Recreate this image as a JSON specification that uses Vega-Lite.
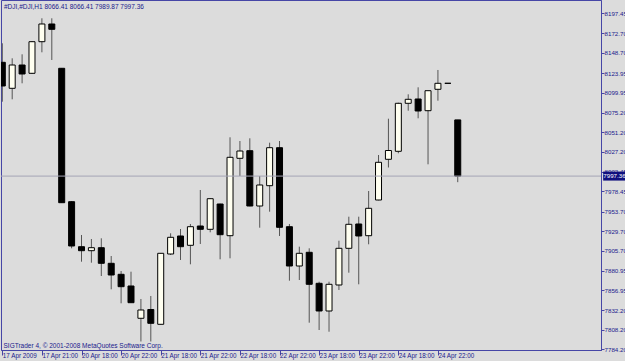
{
  "$schema": "https://vega.github.io/schema/vega-lite/v6.json",
  "width": 600,
  "height": 350,
  "autosize": {"type": "none"},
  "padding": {"left": 1, "top": 0, "right": 24, "bottom": 11},
  "background": "#dcdcdc",
  "config": {
    "view": {"stroke": "#4646a6", "strokeWidth": 1, "fill": "#dcdcdc"},
    "font": "Liberation Sans, sans-serif",
    "scale": {"continuousPadding": 0}
  },
  "title": {
    "text": "#DJI,#DJI,H1  8066.41 8066.41 7989.87 7997.36",
    "anchor": "start",
    "frame": "group",
    "orient": "top",
    "offset": -10,
    "dx": 3,
    "fontSize": 6.5,
    "fontWeight": "normal",
    "color": "#1a1a8c",
    "font": "Liberation Sans, sans-serif"
  },
  "resolve": {"axis": {"x": "independent", "y": "independent"}},
  "datasets": {
    "candles": [
      {"t": "2009-04-17 17:00", "i": 0, "open": 8137.22, "high": 8160.58, "low": 8088.79, "close": 8108.09},
      {"t": "2009-04-17 18:00", "i": 1, "open": 8105.26, "high": 8142.14, "low": 8091.74, "close": 8133.90},
      {"t": "2009-04-17 19:00", "i": 2, "open": 8133.90, "high": 8147.05, "low": 8111.41, "close": 8122.84},
      {"t": "2009-04-17 20:00", "i": 3, "open": 8123.70, "high": 8163.40, "low": 8122.84, "close": 8162.54},
      {"t": "2009-04-17 21:00", "i": 4, "open": 8162.54, "high": 8191.31, "low": 8149.51, "close": 8184.30},
      {"t": "2009-04-17 22:00", "i": 5, "open": 8184.30, "high": 8191.31, "low": 8140.05, "close": 8177.78},
      {"t": "2009-04-20 16:00", "i": 6, "open": 8129.85, "high": 8130.22, "low": 7964.27, "close": 7964.64},
      {"t": "2009-04-20 17:00", "i": 7, "open": 7965.87, "high": 7966.73, "low": 7908.59, "close": 7911.42},
      {"t": "2009-04-20 18:00", "i": 8, "open": 7910.56, "high": 7924.94, "low": 7892.12, "close": 7905.64},
      {"t": "2009-04-20 19:00", "i": 9, "open": 7905.64, "high": 7920.02, "low": 7890.89, "close": 7909.33},
      {"t": "2009-04-20 20:00", "i": 10, "open": 7909.33, "high": 7920.88, "low": 7874.54, "close": 7890.15},
      {"t": "2009-04-20 21:00", "i": 11, "open": 7890.15, "high": 7899.12, "low": 7858.19, "close": 7875.77},
      {"t": "2009-04-20 22:00", "i": 12, "open": 7876.63, "high": 7880.69, "low": 7840.98, "close": 7861.39},
      {"t": "2009-04-20 23:00", "i": 13, "open": 7862.25, "high": 7879.83, "low": 7841.72, "close": 7841.72},
      {"t": "2009-04-21 16:00", "i": 14, "open": 7822.55, "high": 7846.27, "low": 7794.03, "close": 7832.75},
      {"t": "2009-04-21 17:00", "i": 15, "open": 7833.36, "high": 7849.96, "low": 7794.03, "close": 7816.40},
      {"t": "2009-04-21 18:00", "i": 16, "open": 7815.17, "high": 7902.81, "low": 7814.92, "close": 7902.44},
      {"t": "2009-04-21 19:00", "i": 17, "open": 7901.58, "high": 7927.03, "low": 7900.35, "close": 7922.11},
      {"t": "2009-04-21 20:00", "i": 18, "open": 7923.71, "high": 7932.31, "low": 7894.21, "close": 7910.56},
      {"t": "2009-04-21 21:00", "i": 19, "open": 7912.28, "high": 7938.46, "low": 7888.92, "close": 7935.14},
      {"t": "2009-04-21 22:00", "i": 20, "open": 7936.00, "high": 7980.25, "low": 7913.88, "close": 7931.94},
      {"t": "2009-04-21 23:00", "i": 21, "open": 7931.94, "high": 7970.05, "low": 7928.26, "close": 7969.56},
      {"t": "2009-04-22 16:00", "i": 22, "open": 7963.04, "high": 7963.41, "low": 7895.07, "close": 7925.31},
      {"t": "2009-04-22 17:00", "i": 23, "open": 7924.08, "high": 8045.03, "low": 7896.30, "close": 8020.45},
      {"t": "2009-04-22 18:00", "i": 24, "open": 8019.22, "high": 8040.48, "low": 7997.46, "close": 8028.19},
      {"t": "2009-04-22 19:00", "i": 25, "open": 8028.56, "high": 8043.80, "low": 7960.21, "close": 7960.58},
      {"t": "2009-04-22 20:00", "i": 26, "open": 7960.58, "high": 7997.46, "low": 7933.91, "close": 7986.40},
      {"t": "2009-04-22 21:00", "i": 27, "open": 7985.54, "high": 8038.39, "low": 7953.58, "close": 8032.25},
      {"t": "2009-04-22 22:00", "i": 28, "open": 8032.25, "high": 8040.48, "low": 7923.71, "close": 7934.40},
      {"t": "2009-04-22 23:00", "i": 29, "open": 7935.14, "high": 7938.46, "low": 7868.76, "close": 7886.83},
      {"t": "2009-04-23 16:00", "i": 30, "open": 7886.83, "high": 7910.56, "low": 7869.62, "close": 7902.44},
      {"t": "2009-04-23 17:00", "i": 31, "open": 7903.67, "high": 7908.59, "low": 7817.14, "close": 7864.34},
      {"t": "2009-04-23 18:00", "i": 32, "open": 7865.57, "high": 7867.53, "low": 7808.16, "close": 7831.52},
      {"t": "2009-04-23 19:00", "i": 33, "open": 7831.52, "high": 7867.53, "low": 7806.07, "close": 7864.34},
      {"t": "2009-04-23 20:00", "i": 34, "open": 7863.48, "high": 7917.93, "low": 7857.33, "close": 7908.59},
      {"t": "2009-04-23 21:00", "i": 35, "open": 7908.59, "high": 7947.43, "low": 7878.60, "close": 7938.09},
      {"t": "2009-04-23 22:00", "i": 36, "open": 7938.46, "high": 7947.43, "low": 7864.34, "close": 7923.71},
      {"t": "2009-04-23 23:00", "i": 37, "open": 7924.08, "high": 7979.02, "low": 7913.51, "close": 7957.76},
      {"t": "2009-04-24 16:00", "i": 38, "open": 7967.96, "high": 8023.27, "low": 7967.59, "close": 8014.30},
      {"t": "2009-04-24 17:00", "i": 39, "open": 8017.99, "high": 8067.89, "low": 8007.91, "close": 8028.80},
      {"t": "2009-04-24 18:00", "i": 40, "open": 8027.82, "high": 8087.56, "low": 8025.36, "close": 8086.82},
      {"t": "2009-04-24 19:00", "i": 41, "open": 8086.82, "high": 8097.89, "low": 8077.73, "close": 8091.74},
      {"t": "2009-04-24 20:00", "i": 42, "open": 8092.11, "high": 8106.49, "low": 8068.39, "close": 8077.36},
      {"t": "2009-04-24 21:00", "i": 43, "open": 8077.73, "high": 8102.31, "low": 8011.84, "close": 8102.31},
      {"t": "2009-04-24 22:00", "i": 44, "open": 8104.03, "high": 8127.76, "low": 8090.02, "close": 8111.41},
      {"t": "2009-04-24 23:00", "i": 45, "open": 8111.41, "high": 8111.41, "low": 8111.41, "close": 8111.41},
      {"t": "2009-04-27 16:00", "i": 46, "open": 8066.41, "high": 8066.41, "low": 7989.87, "close": 7997.36}
    ],
    "last": [{"price": 7997.36, "label": "7997.36", "boxX": 61.9, "textX": 60.7}]
  },
  "layer": [
    {
      "data": {"name": "candles"},
      "mark": {"type": "rule", "color": "#555555", "strokeWidth": 1, "clip": true},
      "encoding": {
        "x": {
          "field": "i", "type": "quantitative",
          "scale": {"domain": [-0.131, 60.47], "nice": false, "zero": false, "padding": 0},
          "axis": {
            "orient": "bottom",
            "values": [0, 4, 8, 12, 16, 20, 24, 28, 32, 36, 40, 44],
            "labelExpr": "['17 Apr 2009','17 Apr 21:00','20 Apr 18:00','20 Apr 22:00','21 Apr 18:00','21 Apr 22:00','22 Apr 18:00','22 Apr 22:00','23 Apr 18:00','23 Apr 22:00','24 Apr 18:00','24 Apr 22:00'][round(datum.value/4)]",
            "labelAlign": "left",
            "labelBaseline": "top",
            "labelDx": 1,
            "labelPadding": -3,
            "labelFontSize": 6.3,
            "labelColor": "#1a1a8c",
            "labelOverlap": false,
            "labelFlush": false,
            "labelBound": false,
            "tickSize": 5,
            "tickColor": "#4646a6",
            "domainColor": "#4646a6",
            "grid": false,
            "title": "SIGTrader 4, © 2001-2008 MetaQuotes Software Corp.",
            "titleX": 2,
            "titleY": -5,
            "titleAlign": "left",
            "titleAnchor": "start",
            "titleBaseline": "middle",
            "titleFontSize": 6.5,
            "titleFontWeight": "normal",
            "titleColor": "#1a1a8c"
          }
        },
        "y": {
          "field": "low", "type": "quantitative",
          "scale": {"domain": [7783.58, 8213.8], "nice": false, "zero": false, "padding": 0},
          "axis": {
            "orient": "right",
            "values": [8197.45, 8172.70, 8148.70, 8123.95, 8099.95, 8075.20, 8051.20, 8027.20, 8002.45, 7978.45, 7953.70, 7929.70, 7905.70, 7880.95, 7856.95, 7832.20, 7808.20, 7784.20],
            "format": ".2f",
            "labelFontSize": 6.2,
            "labelColor": "#1a1a8c",
            "labelPadding": 0,
            "labelOverlap": false,
            "labelBound": false,
            "labelFlush": false,
            "tickSize": 3,
            "tickColor": "#4646a6",
            "domainColor": "#4646a6",
            "grid": false,
            "title": null
          }
        },
        "y2": {"field": "high"}
      }
    },
    {
      "data": {"name": "candles"},
      "mark": {"type": "bar", "width": 6, "stroke": "#000000", "strokeWidth": 1, "clip": true},
      "encoding": {
        "x": {"field": "i", "type": "quantitative", "axis": null},
        "y": {"field": "open", "type": "quantitative", "axis": null},
        "y2": {"field": "close"},
        "fill": {"condition": {"test": "datum.close > datum.open", "value": "#fffff0"}, "value": "#000000"}
      }
    },
    {
      "data": {"name": "last"},
      "mark": {"type": "rule", "color": "#a4a4b6", "strokeWidth": 1},
      "encoding": {
        "y": {"field": "price", "type": "quantitative", "axis": null}
      }
    },
    {
      "data": {"name": "last"},
      "mark": {"type": "tick", "orient": "horizontal", "size": 24, "thickness": 9, "color": "#10107f", "opacity": 1, "clip": false},
      "encoding": {
        "x": {"field": "boxX", "type": "quantitative", "axis": null},
        "y": {"field": "price", "type": "quantitative", "axis": null}
      }
    },
    {
      "data": {"name": "last"},
      "mark": {"type": "text", "align": "left", "baseline": "middle", "color": "#ffffff", "fontSize": 6.2, "clip": false},
      "encoding": {
        "x": {"field": "textX", "type": "quantitative", "axis": null},
        "y": {"field": "price", "type": "quantitative", "axis": null},
        "text": {"field": "label"}
      }
    }
  ]
}
